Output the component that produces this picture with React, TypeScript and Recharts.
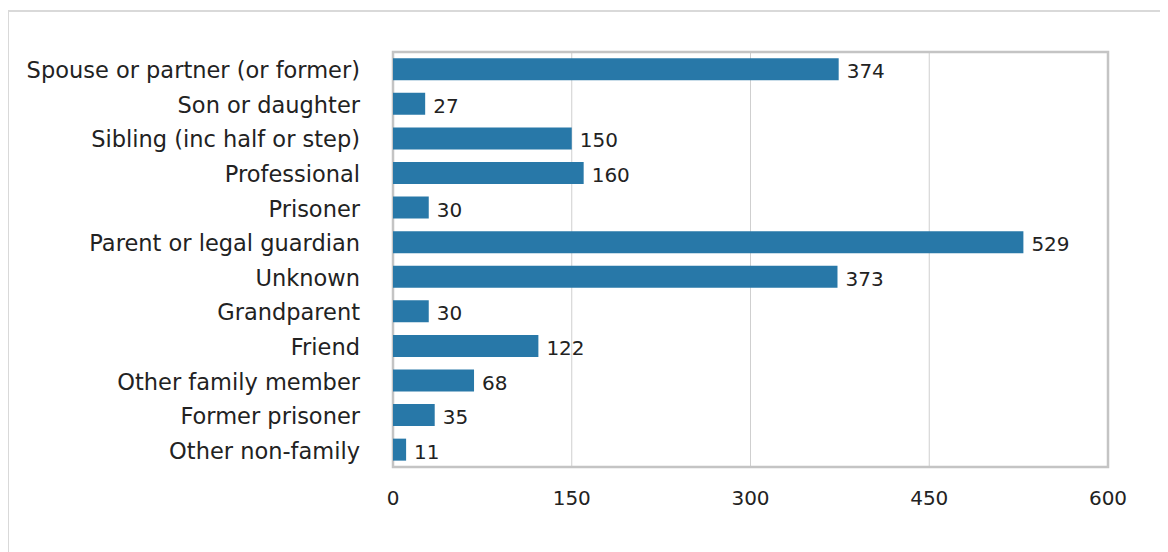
import { BarChart, Bar, XAxis, YAxis, CartesianGrid, ReferenceArea, LabelList } from "recharts";

const categories = [
  "Spouse or partner (or former)",
  "Son or daughter ",
  "Sibling (inc half or step) ",
  "Professional ",
  "Prisoner ",
  "Parent or legal guardian ",
  "Unknown ",
  "Grandparent ",
  "Friend ",
  "Other family member",
  "Former prisoner ",
  "Other non-family ",
];
const counts = [374, 27, 150, 160, 30, 529, 373, 30, 122, 68, 35, 11];
const xTicks = [0, 150, 300, 450, 600];

const data = categories.map((name, i) => ({ name, count: counts[i] }));

const FONT = "'DejaVu Sans', sans-serif";

export default function App() {
  return (
    <div style={{ position: "relative", width: 1160, height: 544, fontFamily: FONT }}>
      <div
        style={{
          position: "absolute",
          left: -1,
          top: 2,
          width: 1170,
          height: 560,
          borderLeft: "2px solid #d9d9d9",
          borderTop: "2px solid #d9d9d9",
          boxSizing: "border-box",
          pointerEvents: "none",
        }}
      />
      <BarChart
        width={1160}
        height={544}
        data={data}
        layout="vertical"
        margin={{ top: 44, right: 60, bottom: 35, left: 0 }}
        barCategoryGap="18%"
      >
        <CartesianGrid horizontal={false} vertical stroke="#cfcfcf" strokeWidth={1} />
        <XAxis
          type="number"
          domain={[0, 600]}
          ticks={xTicks}
          axisLine={false}
          tickLine={false}
          tickMargin={18}
          height={50}
          tick={{ fill: "#222", fontSize: 20, fontFamily: FONT }}
        />
        <YAxis
          type="category"
          dataKey="name"
          width={385}
          axisLine={false}
          tickLine={false}
          tickMargin={27}
          interval={0}
          tick={{ fill: "#222", fontSize: 22.5, fontFamily: FONT, dy: 1 }}
        />
        <ReferenceArea x1={0} x2={600} fill="none" stroke="#c4c4c4" strokeWidth={2.5} ifOverflow="visible" />
        <Bar dataKey="count" fill="#2878a8" isAnimationActive={false}>
          <LabelList dataKey="count" position="right" offset={8} fill="#222" fontSize={20} fontFamily={FONT} dy={2} />
        </Bar>
      </BarChart>
    </div>
  );
}
